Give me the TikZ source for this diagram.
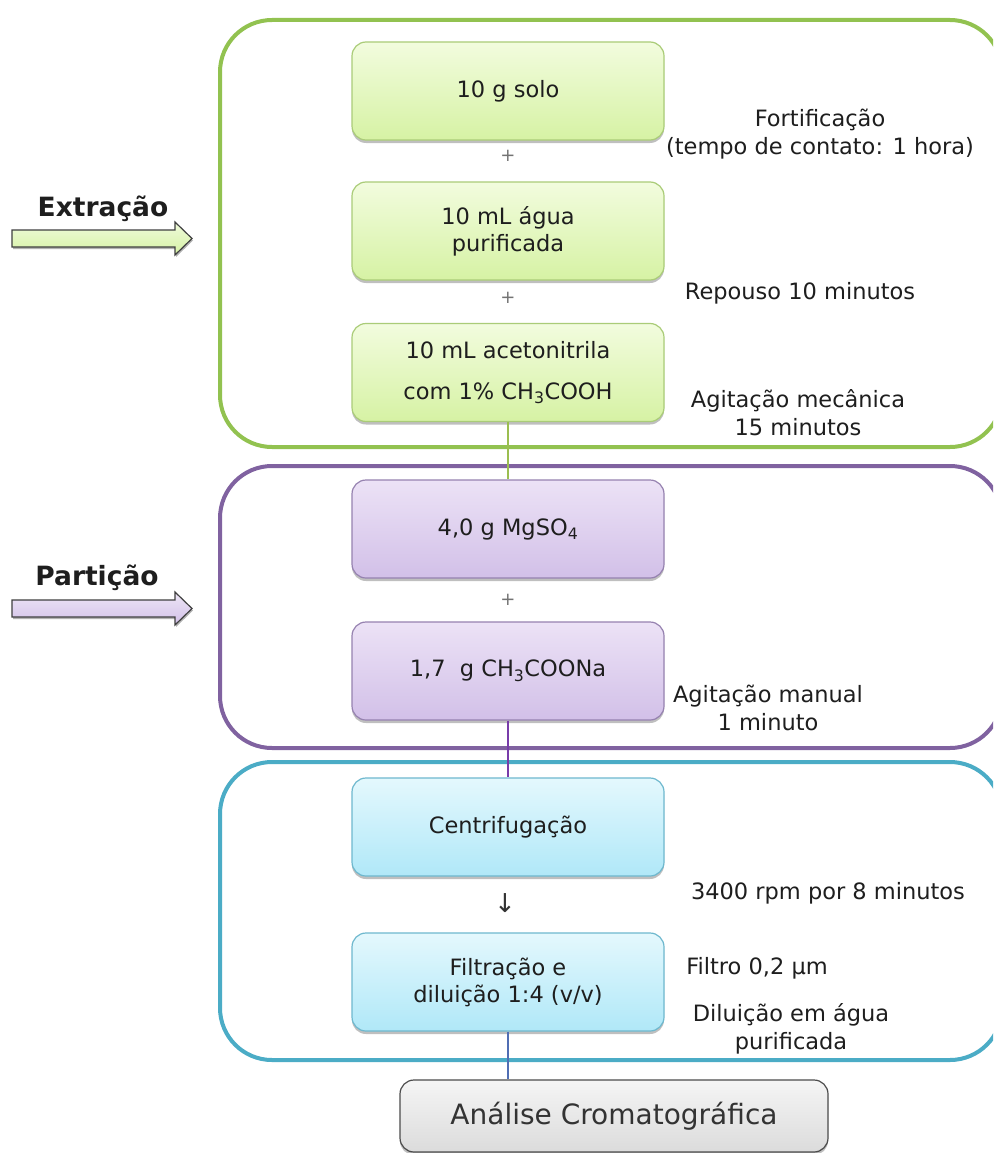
\documentclass[tikz,border=0pt]{standalone}
\usepackage{fontspec}
\setmainfont{DejaVu Sans}
\usetikzlibrary{shadows}
\definecolor{gframe}{RGB}{146,194,80}
\definecolor{pframe}{RGB}{128,98,160}
\definecolor{bframe}{RGB}{75,172,198}
\definecolor{gtop}{RGB}{242,252,222}
\definecolor{gbot}{RGB}{214,242,164}
\definecolor{gdraw}{RGB}{170,204,120}
\definecolor{ptop}{RGB}{236,226,246}
\definecolor{pbot}{RGB}{210,192,232}
\definecolor{pdraw}{RGB}{150,130,176}
\definecolor{btop}{RGB}{228,248,253}
\definecolor{bbot}{RGB}{176,232,248}
\definecolor{bdraw}{RGB}{110,184,206}
\definecolor{gline}{RGB}{155,190,80}
\definecolor{pline}{RGB}{120,60,170}
\definecolor{bline}{RGB}{80,110,180}
\definecolor{txt}{RGB}{30,30,30}
\tikzset{
  stepbox/.style={rounded corners=14pt, minimum width=312pt, minimum height=98pt,
    align=center, font=\fontsize{22.5}{27}\selectfont, text=txt, line width=1.2pt,
    drop shadow={shadow xshift=0pt, shadow yshift=-3pt, opacity=0.25, fill=black}},
  greenbox/.style={stepbox, draw=gdraw, top color=gtop, bottom color=gbot},
  purplebox/.style={stepbox, draw=pdraw, top color=ptop, bottom color=pbot},
  bluebox/.style={stepbox, draw=bdraw, top color=btop, bottom color=bbot},
  graybox/.style={rounded corners=14pt, minimum width=428pt, minimum height=72pt,
    font=\fontsize{28}{32}\selectfont, text=black!80, draw=black!70, line width=1.2pt,
    top color=white!96!black, bottom color=black!14,
    drop shadow={shadow xshift=0pt, shadow yshift=-3pt, opacity=0.25, fill=black}},
  frame/.style={rounded corners=52pt, line width=4pt},
  note/.style={font=\fontsize{22.5}{28}\selectfont, text=txt, align=center},
  plus/.style={font=\fontsize{18}{20}\selectfont, text=black!55},
  phase/.style={font=\bfseries\fontsize{26.5}{30}\selectfont, text=txt},
  link/.style={line width=1.5pt},
  phasearrow/.style={draw=black!75, line width=1.2pt,
    drop shadow={shadow xshift=1pt, shadow yshift=-2pt, opacity=0.3, fill=black}}
}
\begin{document}
\begin{tikzpicture}[x=1pt,y=-1pt]
\useasboundingbox (0,0) rectangle (993,1153);
\clip (0,0) rectangle (993,1153);
\fill[white] (0,0) rectangle (993,1153);
% frames
\draw[frame, draw=gframe] (220,20) rectangle (1002,447);
\draw[frame, draw=pframe] (220,466) rectangle (1002,748);
\draw[frame, draw=bframe] (220,762) rectangle (1002,1060);
% phase arrows
\node[phase] (ext) at (103,209) {Extração};
\path[phasearrow, top color=white!60!gbot, bottom color=gbot]
  (12,230) -- (175,230) -- (175,222) -- (192,238.5) -- (175,255) -- (175,247) -- (12,247) -- cycle;
\node[phase] (par) at (97,578) {Partição};
\path[phasearrow, top color=white!60!pbot, bottom color=pbot]
  (12,600) -- (175,600) -- (175,592) -- (192,608.5) -- (175,625) -- (175,617) -- (12,617) -- cycle;
% green boxes
\node[greenbox] (g1) at (508,91) {10 g solo};
\node[plus] (pl1) at (508,156) {+};
\node[greenbox] (g2) at (508,231) {10 mL água\\purificada};
\node[plus] (pl2) at (508,298) {+};
\node[greenbox] (g3) at (508,372.5) {10 mL acetonitrila\\[14pt]com 1\% CH\textsubscript{3}COOH};
% purple boxes
\node[purplebox] (p1) at (508,529) {4,0 g MgSO\textsubscript{4}};
\node[plus] (pl3) at (508,600) {+};
\node[purplebox] (p2) at (508,671) {1,7\ \ g CH\textsubscript{3}COONa};
% blue boxes
\node[bluebox] (c1) at (508,827) {Centrifugação};
\node[font=\fontsize{26}{28}\selectfont, text=black!80] (dn) at (505,903) {↓};
\node[bluebox] (c2) at (508,982) {Filtração e\\diluição 1:4 (v/v)};
% final
\node[graybox] (ga) at (614,1116) {Análise Cromatográfica};
% connectors
\draw[link, draw=gline] (g3.south) -- (p1.north);
\draw[link, draw=pline] (p2.south) -- (c1.north);
\draw[link, draw=bline] (c2.south) -- (c2.south |- ga.north);
% notes
\node[note] (n1) at (820,134) {Fortificação\\(tempo de contato: 1 hora)};
\node[note] (n2) at (800,293) {Repouso 10 minutos};
\node[note] (n3) at (798,413) {Agitação mecânica\\15 minutos};
\node[note] (n4) at (768,708) {Agitação manual\\1 minuto};
\node[note] (n5) at (828,893) {3400 rpm por 8 minutos};
\node[note] (n6) at (757,968) {Filtro 0,2 µm};
\node[note] (n7) at (791,1029) {Diluição em água\\purificada};
\end{tikzpicture}
\end{document}
